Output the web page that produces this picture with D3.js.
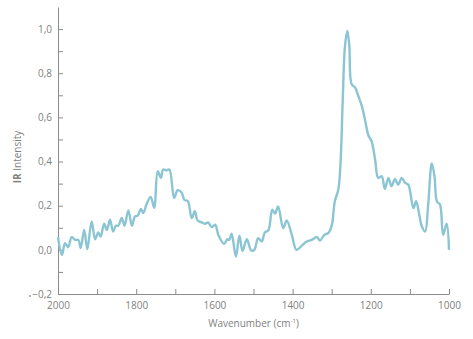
<!DOCTYPE html>
<html>
  <head>
    <script src="https://d3js.org/d3.v7.min.js"></script>
    <meta charset="utf-8">
    <title>IR Spectrum</title>
    <style>
      body { margin: 0; background: #fff; }
      text { font-family: "Open Sans", sans-serif; fill: #7f7f7f; }
    </style>
  </head>
  <body>
    <script>
      // Spectrum
      const wavenumber = [2000, 1990, 1982, 1974, 1965, 1956, 1948, 1942, 1933, 1925,
        1914, 1905, 1897, 1891, 1882, 1875, 1867, 1859, 1852, 1846,
        1837, 1830, 1820, 1811, 1803, 1796, 1788, 1782, 1773, 1763,
        1754, 1745, 1737, 1731, 1722, 1715, 1703, 1694, 1684, 1677,
        1668, 1658, 1650, 1643, 1632, 1624, 1616, 1607, 1598, 1590,
        1575, 1567, 1562, 1556, 1545, 1536, 1528, 1517, 1506, 1498,
        1488, 1479, 1471, 1462, 1452, 1445, 1437, 1424, 1415, 1402,
        1390, 1377, 1364, 1351, 1338, 1330, 1319, 1309, 1300, 1292,
        1283, 1277, 1272, 1266, 1260, 1255, 1249, 1240, 1232, 1223,
        1215, 1206, 1198, 1189, 1181, 1172, 1164, 1155, 1147, 1138,
        1130, 1121, 1112, 1104, 1091, 1084, 1076, 1070, 1061, 1053,
        1044, 1037, 1031, 1023, 1015, 1006, 1000];
      const intensity = [0.058, -0.023, 0.03, 0.012, 0.058, 0.045, 0.045, 0.008, 0.09, 0.003,
        0.129, 0.048, 0.079, 0.06, 0.118, 0.09, 0.136, 0.083, 0.109, 0.109,
        0.144, 0.109, 0.179, 0.109, 0.152, 0.155, 0.185, 0.167, 0.209, 0.24,
        0.19, 0.356, 0.326, 0.364, 0.36, 0.364, 0.235, 0.27, 0.26, 0.227,
        0.22, 0.144, 0.175, 0.133, 0.124, 0.118, 0.124, 0.103, 0.114, 0.068,
        0.027, 0.048, 0.045, 0.073, -0.03, 0.064, -0.005, 0.048, -0.003, 0.0,
        0.053, 0.038, 0.079, 0.088, 0.182, 0.164, 0.197, 0.098, 0.133, 0.068,
        0.0, 0.018, 0.038, 0.045, 0.058, 0.042, 0.068, 0.076, 0.11, 0.22,
        0.273, 0.409, 0.667, 0.924, 0.992, 0.924, 0.75, 0.735, 0.697, 0.652,
        0.59, 0.518, 0.492, 0.409, 0.326, 0.333, 0.276, 0.326, 0.288, 0.321,
        0.295, 0.326, 0.303, 0.295, 0.189, 0.22, 0.159, 0.109, 0.083, 0.212,
        0.391, 0.333, 0.22, 0.205, 0.068, 0.118, 0.0];

      const xTicks = [2000, 1900, 1800, 1700, 1600, 1500, 1400, 1300, 1200, 1100, 1000];
      const yTicks = [-0.2, -0.1, 0, 0.1, 0.2, 0.3, 0.4, 0.5, 0.6, 0.7, 0.8, 0.9, 1.0];

      const width = 473, height = 339;
      const margin = {top: 7, right: 24, bottom: 45, left: 58};

      const svg = d3.select("body")
        .append("svg")
        .attr("width", width)
        .attr("height", height);

      const x = d3.scaleLinear()
        .domain([2000, 1000])
        .range([margin.left, 449]);

      const y = d3.scaleLinear()
        .domain([-0.2, 1.1])
        .range([height - margin.bottom, margin.top]);

      const comma = d3.format(".1f");
      const fmt = v => comma(v).replace(".", ",");

      // x axis
      const gx = svg.append("g")
        .attr("transform", `translate(0,${y(-0.2)})`)
        .call(d3.axisBottom(x)
          .tickValues(xTicks)
          .tickSizeInner(-5)
          .tickSizeOuter(0)
          .tickPadding(8)
          .tickFormat(d => d % 200 === 0 ? d : ""));

      // y axis
      const gy = svg.append("g")
        .attr("transform", `translate(${margin.left},0)`)
        .call(d3.axisLeft(y)
          .tickValues(yTicks)
          .tickSizeInner(-5)
          .tickSizeOuter(0)
          .tickPadding(6)
          .tickFormat(d => Math.round(d * 10) % 2 === 0 ? fmt(d) : ""));

      svg.selectAll(".domain, .tick line").attr("stroke", "#8c8c8c");
      svg.selectAll(".tick text")
        .attr("font-family", "Open Sans, sans-serif")
        .attr("font-size", 10)
        .attr("fill", "#7f7f7f");

      // stray dot left of the lowest label
      svg.append("circle")
        .attr("cx", 30)
        .attr("cy", y(-0.2) + 2)
        .attr("r", 0.8)
        .attr("fill", "#555");

      // spectrum line
      const line = d3.line()
        .x((d, i) => x(wavenumber[i]))
        .y(d => y(d))
        .curve(d3.curveCatmullRom.alpha(0.5));

      svg.append("path")
        .datum(intensity)
        .attr("fill", "none")
        .attr("stroke", "#8bc5d4")
        .attr("stroke-width", 2.4)
        .attr("stroke-linejoin", "round")
        .attr("d", line);

      // axis titles
      svg.append("text")
        .attr("x", (margin.left + 449) / 2)
        .attr("y", 327)
        .attr("text-anchor", "middle")
        .attr("font-size", 10)
        .html("Wavenumber (cm<tspan dy='-4' font-size='6'>-1</tspan><tspan dy='4'>)</tspan>");

      const yt = svg.append("text")
        .attr("transform", "translate(21,157) rotate(-90)")
        .attr("text-anchor", "middle")
        .attr("font-size", 10);
      yt.append("tspan").attr("font-weight", "bold").text("IR");
      yt.append("tspan").text(" Intensity");
    </script>
  </body>
</html>
